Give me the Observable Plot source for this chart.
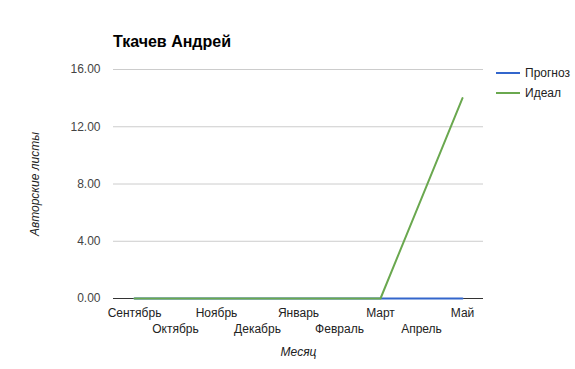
<!DOCTYPE html>
<html>
<head>
<meta charset="utf-8">
<script src="https://cdn.jsdelivr.net/npm/d3@7"></script>
<script src="https://cdn.jsdelivr.net/npm/@observablehq/plot@0.6"></script>
<style>
  html, body { margin: 0; padding: 0; background: #fff; }
  #wrap { position: relative; width: 575px; height: 369px; font-family: "Liberation Sans", Arial, sans-serif; }
  #title { position: absolute; left: 113px; top: 33px; font-size: 16px; font-weight: bold; color: #000; }
  .leg { position: absolute; left: 496px; font-size: 12px; color: #222; display: flex; align-items: center; }
  .leg span.sw { display: inline-block; width: 24px; height: 2px; margin-right: 5px; }
  #chart { position: absolute; left: 0; top: 0; }
</style>
</head>
<body>
<div id="wrap">
  <div id="chart"></div>
  <div id="title">Ткачев Андрей</div>
  <div id="legend"></div>
</div>
<script>
const months = ["Сентябрь","Октябрь","Ноябрь","Декабрь","Январь","Февраль","Март","Апрель","Май"];
const prognoz = [0,0,0,0,0,0,0,0,0];
const ideal = [0,0,0,0,0,0,0,7,14];
const yTicks = [0,4,8,12,16];
const seriesNames = ["Прогноз","Идеал"];
const seriesColors = ["#3366cc","#6aa84f"];

const rows = months.flatMap((m,i) => [
  {month: m, value: prognoz[i], series: seriesNames[0]},
  {month: m, value: ideal[i], series: seriesNames[1]}
]);

const chart = Plot.plot({
  width: 575,
  height: 369,
  marginLeft: 113,
  marginRight: 92,
  marginTop: 69,
  marginBottom: 71,
  style: {fontFamily: "'Liberation Sans', Arial, sans-serif", fontSize: "12px", background: "transparent"},
  x: {type: "point", domain: months, padding: 0.5},
  y: {domain: [0,16]},
  marks: [
    Plot.gridY(yTicks.filter(d => d > 0), {stroke: "#cccccc", strokeOpacity: 1}),
    Plot.ruleY([0], {stroke: "#333333"}),
    Plot.lineY(rows.filter(d => d.series === seriesNames[0]), {x: "month", y: "value", stroke: seriesColors[0], strokeWidth: 2}),
    Plot.lineY(rows.filter(d => d.series === seriesNames[1]), {x: "month", y: "value", stroke: seriesColors[1], strokeWidth: 2}),
    Plot.axisY(yTicks, {tickSize: 0, tickPadding: 13, tickFormat: d3.format(".2f"), fill: "#444", label: null}),
    Plot.axisX(months.filter((d,i) => i % 2 === 0), {tickSize: 0, tickPadding: 10, fill: "#222", label: null}),
    Plot.axisX(months.filter((d,i) => i % 2 === 1), {tickSize: 0, tickPadding: 26, fill: "#222", label: null}),
    Plot.text(["Авторские листы"], {frameAnchor: "left", textAnchor: "middle", dx: -78, rotate: -90, fontStyle: "italic", fill: "#222", fontSize: 12}),
    Plot.text(["Месяц"], {frameAnchor: "bottom", textAnchor: "middle", dy: 57, fontStyle: "italic", fill: "#222", fontSize: 12})
  ]
});
document.getElementById("chart").appendChild(chart);

const legend = document.getElementById("legend");
seriesNames.forEach((name, i) => {
  const d = document.createElement("div");
  d.className = "leg";
  d.style.top = (66 + i * 20) + "px";
  d.innerHTML = `<span class="sw" style="background:${seriesColors[i]}"></span>${name}`;
  legend.appendChild(d);
});
</script>
</body>
</html>
